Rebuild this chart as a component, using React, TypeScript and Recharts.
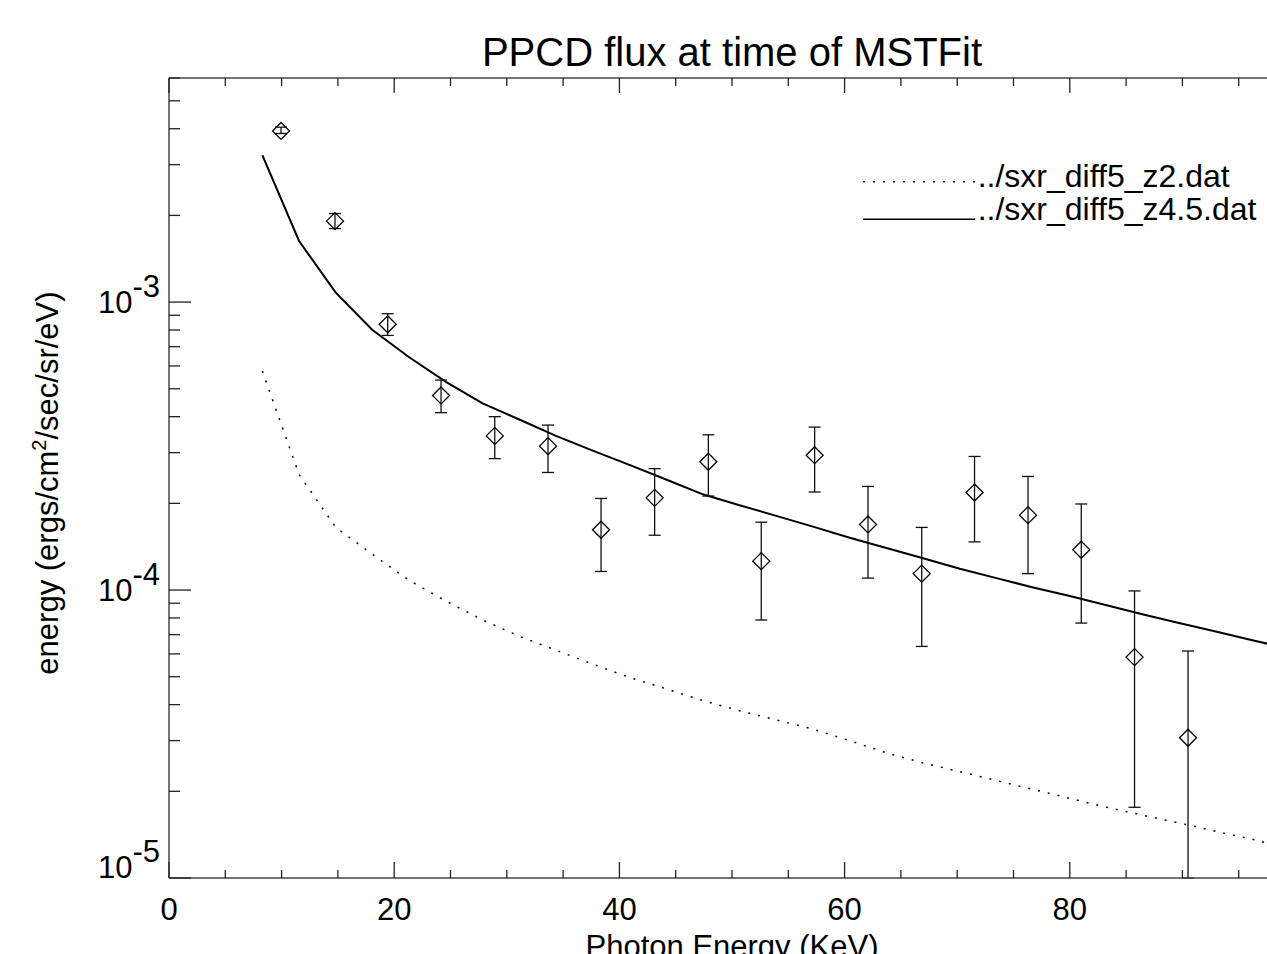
import { ComposedChart, Line, Scatter, ErrorBar, XAxis, YAxis, Customized } from 'recharts';

const pointEnergy = [9.95, 14.74, 19.42, 24.16, 28.93, 33.66, 38.37, 43.13, 47.9, 52.6, 57.34, 62.08, 66.85, 71.54, 76.29, 81.02, 85.75, 90.5];
const pointFlux = [3.93e-3, 1.91e-3, 8.37e-4, 4.74e-4, 3.43e-4, 3.16e-4, 1.62e-4, 2.09e-4, 2.79e-4, 1.26e-4, 2.94e-4, 1.69e-4, 1.14e-4, 2.18e-4, 1.82e-4, 1.38e-4, 5.85e-5, 3.07e-5];
const pointHigh = [4.05e-3, 2.03e-3, 9.11e-4, 5.36e-4, 4.0e-4, 3.74e-4, 2.08e-4, 2.64e-4, 3.46e-4, 1.72e-4, 3.68e-4, 2.29e-4, 1.65e-4, 2.91e-4, 2.48e-4, 1.99e-4, 9.93e-5, 6.14e-5];
// last lower bound runs off the bottom of the plot, stop it at the axis
const pointLow = [3.85e-3, 1.8e-3, 7.66e-4, 4.13e-4, 2.86e-4, 2.56e-4, 1.16e-4, 1.55e-4, 2.12e-4, 7.87e-5, 2.19e-4, 1.1e-4, 6.37e-5, 1.47e-4, 1.14e-4, 7.68e-5, 1.76e-5, 1e-5];

const modelEnergy = [8.29, 11.55, 14.81, 18.07, 21.33, 24.59, 27.85, 31.11, 34.37, 37.63, 40.89, 44.15, 47.41, 50.67, 53.93, 57.19, 60.45, 63.71, 66.97, 70.23, 73.49, 76.75, 80.01, 83.27, 86.53, 89.79, 93.05, 96.31, 99.57];
const fluxZ45 = [3.24e-3, 1.63e-3, 1.078e-3, 8.0e-4, 6.43e-4, 5.28e-4, 4.45e-4, 3.91e-4, 3.43e-4, 3.05e-4, 2.72e-4, 2.42e-4, 2.15e-4, 1.97e-4, 1.81e-4, 1.66e-4, 1.52e-4, 1.4e-4, 1.29e-4, 1.186e-4, 1.1e-4, 1.02e-4, 9.53e-5, 8.85e-5, 8.22e-5, 7.67e-5, 7.16e-5, 6.68e-5, 6.24e-5];
const fluxZ2 = [5.76e-4, 2.52e-4, 1.65e-4, 1.33e-4, 1.08e-4, 9.16e-5, 7.87e-5, 6.91e-5, 6.18e-5, 5.53e-5, 4.97e-5, 4.54e-5, 4.13e-5, 3.81e-5, 3.54e-5, 3.29e-5, 3.0e-5, 2.72e-5, 2.51e-5, 2.34e-5, 2.18e-5, 2.03e-5, 1.89e-5, 1.76e-5, 1.65e-5, 1.55e-5, 1.45e-5, 1.36e-5, 1.26e-5];

const xTicks = [0, 5, 10, 15, 20, 25, 30, 35, 40, 45, 50, 55, 60, 65, 70, 75, 80, 85, 90, 95, 100];
const xLabelTicks = [0, 20, 40, 60, 80];
const yTicks = [
  1e-5, 2e-5, 3e-5, 4e-5, 5e-5, 6e-5, 7e-5, 8e-5, 9e-5,
  1e-4, 2e-4, 3e-4, 4e-4, 5e-4, 6e-4, 7e-4, 8e-4, 9e-4,
  1e-3, 2e-3, 3e-3, 4e-3, 5e-3, 6e-3,
];
const legendLabels = ['../sxr_diff5_z2.dat', '../sxr_diff5_z4.5.dat'];

const points = pointEnergy.map((e, i) => ({
  x: e,
  y: pointFlux[i],
  err: [pointFlux[i] - pointLow[i], pointHigh[i] - pointFlux[i]],
}));
const z45 = modelEnergy.map((e, i) => ({ x: e, y: fluxZ45[i] }));
const z2 = modelEnergy.map((e, i) => ({ x: e, y: fluxZ2[i] }));

const FONT = '"Liberation Sans", Arial, Helvetica, sans-serif';
const TICK = '#222';

function Diamond(props: any) {
  const { cx, cy } = props;
  const r = 8.5;
  return (
    <path
      d={`M${cx},${cy - r}L${cx + r},${cy}L${cx},${cy + r}L${cx - r},${cy}Z`}
      fill="none"
      stroke="#000"
      strokeWidth={1.3}
    />
  );
}

function BottomTick(props: any) {
  const { x, y, payload } = props;
  const major = payload.value % 20 === 0;
  return (
    <g>
      <line x1={x} x2={x} y1={y} y2={y - (major ? 16 : 8)} stroke={TICK} strokeWidth={1.3} />
      {xLabelTicks.includes(payload.value) && (
        <text x={x} y={y + 42} textAnchor="middle" fontSize={31} fontFamily={FONT} fill="#000">
          {payload.value}
        </text>
      )}
    </g>
  );
}

function TopTick(props: any) {
  const { x, y, payload } = props;
  const major = payload.value % 20 === 0;
  return <line x1={x} x2={x} y1={y} y2={y + (major ? 15 : 8)} stroke={TICK} strokeWidth={1.3} />;
}

function LeftTick(props: any) {
  const { x, y, payload } = props;
  const v = payload.value;
  const e = Math.floor(Math.log10(v) + 1e-9);
  const major = Math.abs(v / Math.pow(10, e) - 1) < 1e-6;
  return (
    <g>
      <line x1={x} x2={x + (major ? 22 : 11)} y1={y} y2={y} stroke={TICK} strokeWidth={1.3} />
      {major && (
        <text x={x - 9} y={y + (e === -5 ? 0 : 11)} textAnchor="end" fontSize={31} fontFamily={FONT} fill="#000">
          10<tspan dy={-16}>{`${e}`}</tspan>
        </text>
      )}
    </g>
  );
}

function Labels() {
  return (
    <g fontFamily={FONT} fill="#000">
      <text x={724} y={58} textAnchor="middle" fontSize={40}>
        PPCD flux at time of MSTFit
      </text>
      <text x={724} y={949} textAnchor="middle" fontSize={31}>
        Photon Energy (KeV)
      </text>
      <text x={50} y={475} textAnchor="middle" fontSize={31} transform="rotate(-90 50 475)">
        energy (ergs/cm<tspan dy={-12} fontSize={20}>2</tspan>
        <tspan dy={12}>/sec/sr/eV)</tspan>
      </text>
      <line x1={855} x2={969} y1={173.7} y2={173.7} stroke="#000" strokeWidth={1.5} strokeDasharray="2 8" />
      <text x={969.7} y={178.7} fontSize={32}>
        {legendLabels[0]}
      </text>
      <line x1={855} x2={967} y1={211.3} y2={211.3} stroke="#000" strokeWidth={1.5} />
      <text x={969.7} y={212} fontSize={32}>
        {legendLabels[1]}
      </text>
    </g>
  );
}

export default function App() {
  return (
    <div style={{ position: 'fixed', left: 0, top: 0, width: 1267, height: 954, overflow: 'hidden', background: '#fff' }}>
      <div style={{ position: 'absolute', left: 8, top: 8 }}>
        <ComposedChart width={1330} height={1000} margin={{ top: 40, right: 43, bottom: 70, left: 61 }}>
          <XAxis
            xAxisId={0}
            dataKey="x"
            type="number"
            domain={[0, 100]}
            ticks={xTicks}
            interval={0}
            height={60}
            tickSize={0}
            tickMargin={0}
            tickLine={false}
            tick={<BottomTick />}
            axisLine={{ stroke: '#444', strokeWidth: 1.5 }}
            allowDataOverflow
          />
          <XAxis
            xAxisId="top"
            orientation="top"
            dataKey="x"
            type="number"
            domain={[0, 100]}
            ticks={xTicks}
            interval={0}
            height={30}
            tickSize={0}
            tickMargin={0}
            tickLine={false}
            tick={<TopTick />}
            axisLine={{ stroke: '#444', strokeWidth: 1.5 }}
            allowDataOverflow
          />
          <YAxis
            dataKey="y"
            type="number"
            scale="log"
            domain={[1e-5, 6e-3]}
            ticks={yTicks}
            interval={0}
            width={100}
            tickSize={0}
            tickMargin={0}
            tickLine={false}
            tick={<LeftTick />}
            axisLine={{ stroke: '#444', strokeWidth: 1.5 }}
            allowDataOverflow
          />
          <Line data={z2} dataKey="y" type="linear" stroke="#000" strokeWidth={1.5} strokeDasharray="2 8" dot={false} isAnimationActive={false} />
          <Line data={z45} dataKey="y" type="linear" stroke="#000" strokeWidth={2} dot={false} isAnimationActive={false} />
          <Scatter data={points} dataKey="y" shape={Diamond} isAnimationActive={false}>
            <ErrorBar dataKey="err" direction="y" width={6} stroke="#111" strokeWidth={1.3} />
          </Scatter>
          <Customized component={Labels} />
        </ComposedChart>
      </div>
    </div>
  );
}
